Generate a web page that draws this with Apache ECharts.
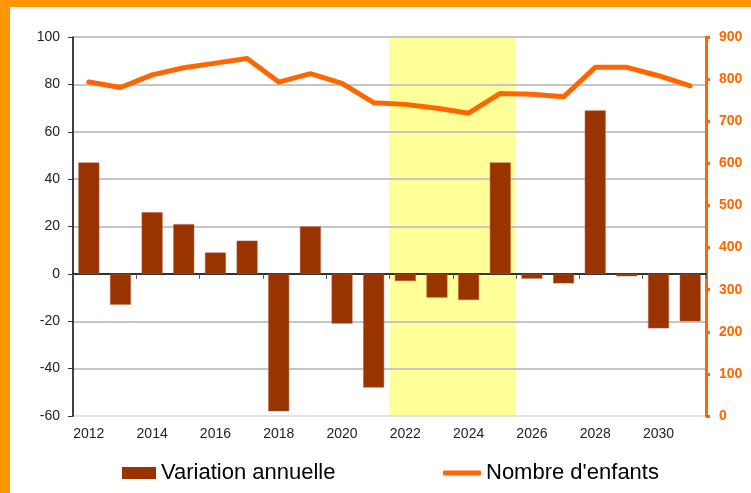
<!DOCTYPE html>
<html>
<head>
<meta charset="utf-8">
<script src="https://cdn.jsdelivr.net/npm/echarts@6/dist/echarts.min.js"></script>
<style>
  html, body { margin: 0; padding: 0; width: 751px; height: 493px; background: #ff9500; overflow: hidden; }
  #chart { position: absolute; left: 10px; top: 7px; width: 741px; height: 486px; background: #ffffff; }
</style>
</head>
<body>
<div id="chart"></div>
<script>
const categories = ['2012','2013','2014','2015','2016','2017','2018','2019','2020','2021',
                    '2022','2023','2024','2025','2026','2027','2028','2029','2030','2031'];
const variation = [47, -13, 26, 21, 9, 14, -58, 20, -21, -48, -3, -10, -11, 47, -2, -4, 69, -1, -23, -20];
const enfants = [793, 780, 810, 827, 838, 849, 793, 813, 790, 744, 740, 731, 719, 766, 764, 758, 828, 828, 808, 784];
const leftTicks = { min: -60, max: 100, interval: 20 };
const rightTicks = { min: 0, max: 900, interval: 100 };
const bandFrom = '2022';
const bandTo = '2025';
const seriesNames = ['Variation annuelle', "Nombre d'enfants"];

const FONT = "'Liberation Sans', Arial, sans-serif";
const bandStart = categories.indexOf(bandFrom);
const bandEnd = categories.indexOf(bandTo) + 1;

const chart = echarts.init(document.getElementById('chart'));
chart.setOption({
  animation: false,
  textStyle: { fontFamily: FONT },
  grid: { left: 63, top: 30, right: 45, bottom: 77, containLabel: false },
  legend: [
    {
      data: [{ name: seriesNames[0], icon: 'rect' }], left: 112, top: 455, padding: 0,
      itemWidth: 34, itemHeight: 12,
      itemStyle: { borderWidth: 0 },
      textStyle: { fontSize: 22, color: '#000', fontFamily: FONT }
    },
    {
      data: [{ name: seriesNames[1], icon: 'roundRect' }], left: 433, top: 455, padding: 0,
      itemWidth: 38, itemHeight: 5,
      itemStyle: { color: '#ff6600', borderWidth: 0 },
      textStyle: { fontSize: 22, color: '#000', fontFamily: FONT }
    }
  ],
  xAxis: [
    {
      type: 'category', data: categories, position: 'bottom',
      axisLine: { onZero: true, onZeroAxisIndex: 0, lineStyle: { color: '#000', width: 1.5 } },
      axisTick: { show: true, length: 5, lineStyle: { color: '#555', width: 1 } },
      axisLabel: { show: false },
      splitLine: { show: false }
    },
    {
      type: 'category', data: categories, position: 'bottom',
      axisLine: { show: false, onZero: false },
      axisTick: { show: false },
      axisLabel: { show: true, interval: 1, fontSize: 14, color: '#222', margin: 11, fontFamily: FONT },
      splitLine: { show: false }
    },
    {
      type: 'value', min: 0, max: categories.length, position: 'top', show: false
    }
  ],
  yAxis: [
    {
      type: 'value', position: 'left',
      min: leftTicks.min, max: leftTicks.max, interval: leftTicks.interval,
      axisLine: { show: true, onZero: false, lineStyle: { color: '#000', width: 1.5 } },
      axisTick: { show: true, length: 5, lineStyle: { color: '#333' } },
      axisLabel: { fontSize: 14, color: '#222', margin: 13, fontFamily: FONT },
      splitLine: { show: true, lineStyle: { color: ['#e2e2e2','#c6c6c6','#c6c6c6','#c6c6c6','#c6c6c6','#c6c6c6','#c6c6c6','#c6c6c6','#c6c6c6'], width: 2 } }
    },
    {
      type: 'value', position: 'right',
      min: rightTicks.min, max: rightTicks.max, interval: rightTicks.interval,
      axisLine: { show: true, onZero: false, lineStyle: { color: '#ff6600', width: 3 } },
      axisTick: { show: true, length: 4, lineStyle: { color: '#ff6600', width: 3 } },
      axisLabel: { fontSize: 14, fontWeight: 'bold', color: '#ff6600', margin: 13, fontFamily: FONT },
      splitLine: { show: false }
    }
  ],
  series: [
    {
      name: 'band', type: 'line', xAxisIndex: 2, yAxisIndex: 0, data: [],
      silent: true, z: -1,
      markArea: {
        silent: true, z: -1,
        itemStyle: { color: '#ffff99' },
        data: [[{ xAxis: bandStart }, { xAxis: bandEnd }]]
      }
    },
    {
      name: seriesNames[0], type: 'bar', xAxisIndex: 0, yAxisIndex: 0,
      data: variation, barCategoryGap: '34%',
      itemStyle: { color: '#993300', borderColor: '#b25a3a', borderWidth: 0.5 },
      z: 2
    },
    {
      name: seriesNames[1], type: 'line', xAxisIndex: 0, yAxisIndex: 1,
      data: enfants, symbol: 'none',
      lineStyle: { color: '#ff6600', width: 5, cap: 'round', join: 'round' },
      itemStyle: { color: '#ff6600' },
      z: 3
    }
  ]
});
</script>
</body>
</html>
